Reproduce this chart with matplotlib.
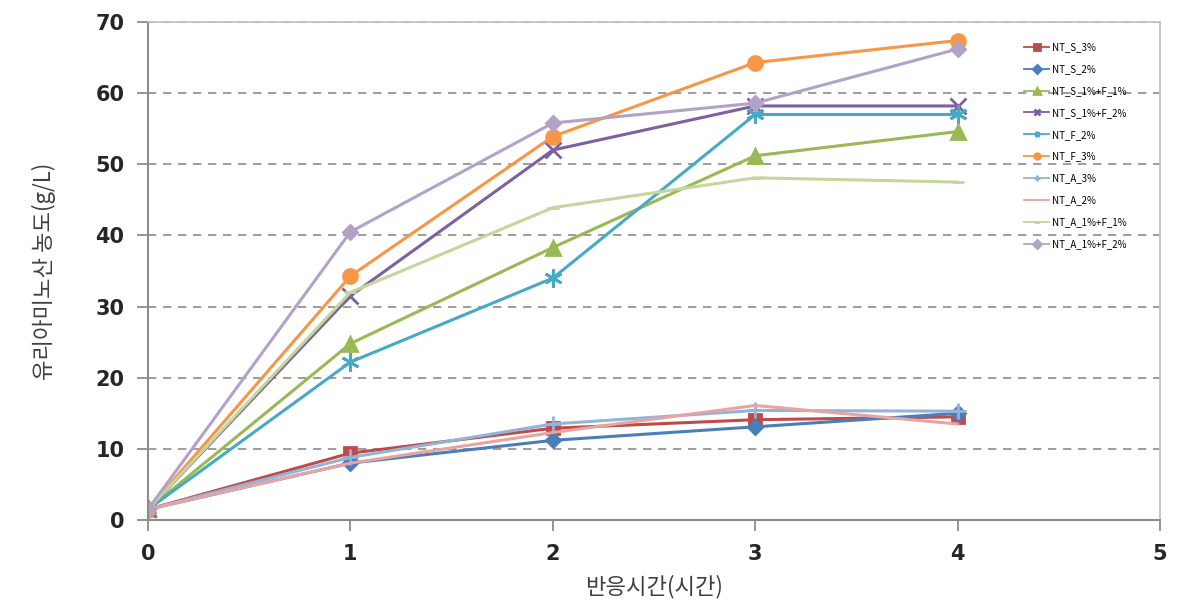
import matplotlib.pyplot as plt

plt.rcParams['font.family'] = ['Noto Sans CJK KR', 'DejaVu Sans']

# 반응시간 (시간)
hours = [0, 1, 2, 3, 4]

# 유리아미노산 농도 (g/L)
nt_s_3 = [1.5, 9.4, 12.9, 14.1, 14.5]
nt_s_2 = [1.5, 8.0, 11.2, 13.1, 15.0]
nt_s_1_f_1 = [1.5, 24.8, 38.3, 51.2, 54.6]
nt_s_1_f_2 = [1.5, 31.5, 52.0, 58.2, 58.2]
nt_f_2 = [1.5, 22.2, 34.0, 57.0, 57.0]
nt_f_3 = [1.5, 34.3, 53.9, 64.3, 67.4]
nt_a_3 = [1.5, 8.8, 13.5, 15.4, 15.3]
nt_a_2 = [1.5, 8.0, 12.3, 16.1, 13.5]
nt_a_1_f_1 = [1.5, 32.0, 43.9, 48.1, 47.5]
nt_a_1_f_2 = [1.5, 40.5, 55.8, 58.6, 66.2]

labels = ['NT_S_3%', 'NT_S_2%', 'NT_S_1%+F_1%', 'NT_S_1%+F_2%', 'NT_F_2%',
          'NT_F_3%', 'NT_A_3%', 'NT_A_2%', 'NT_A_1%+F_1%', 'NT_A_1%+F_2%']
series = [nt_s_3, nt_s_2, nt_s_1_f_1, nt_s_1_f_2, nt_f_2,
          nt_f_3, nt_a_3, nt_a_2, nt_a_1_f_1, nt_a_1_f_2]

# 색상 / 마커 (엑셀 기본 스타일 흉내)
styles = [
    ('#BE4B48', 's', 8),
    ('#4A7EBB', 'D', 7),
    ('#98B954', '^', 10),
    ('#7D60A0', 'x', 11),
    ('#46AAC5', (6, 2, 0), 13),
    ('#F79646', 'o', 10),
    ('#95B3D7', '+', 12),
    ('#E6A5A0', None, 6),
    ('#C3D69B', '_', 8),
    ('#B3A2C7', 'D', 7),
]

fig = plt.figure(figsize=(11.87, 6.08), dpi=100)
ax = fig.add_axes([0.1247, 0.1447, 0.8525, 0.8191])

for lab, y, (c, m, ms) in zip(labels, series, styles):
    ax.plot(hours, y, color=c, lw=2.2, marker=m, markersize=ms,
            markeredgewidth=2, markerfacecolor=c, markeredgecolor=c, label=lab)

ax.set_xlim(0, 5)
ax.set_ylim(0, 70)
ax.set_xticks(range(0, 6))
ax.set_yticks(range(0, 71, 10))
ax.yaxis.grid(True, linestyle=(0, (5, 4)), color='#8C8C8C', lw=1.2)
ax.set_axisbelow(True)

for s in ['left', 'bottom']:
    ax.spines[s].set_color('#8C8C8C')
    ax.spines[s].set_linewidth(1.5)
for s in ['top', 'right']:
    ax.spines[s].set_color('#BFBFBF')
    ax.spines[s].set_linewidth(1.2)

ax.tick_params(axis='both', direction='out', length=8, width=1.3, color='#8C8C8C',
               labelsize=15, labelcolor='#262626')
ax.tick_params(axis='y', pad=9)
ax.tick_params(axis='x', pad=9)
for t in ax.get_xticklabels() + ax.get_yticklabels():
    t.set_fontweight('bold')
    t.set_family('DejaVu Sans')

ax.set_xlabel('반응시간(시간)', fontsize=16, color='#404040', labelpad=8)
ax.set_ylabel('유리아미노산 농도(g/L)', fontsize=16, color='#404040', labelpad=28)

leg = ax.legend(loc='upper left', bbox_to_anchor=(0.858, 0.975), frameon=False,
                fontsize=7, handlelength=2.6, labelspacing=1.22, borderpad=0.3,
                handletextpad=0.3)
for h in leg.legend_handles:
    h.set_markersize(4)
    h.set_linewidth(1.3)

fig.savefig('out.png', dpi=100)
